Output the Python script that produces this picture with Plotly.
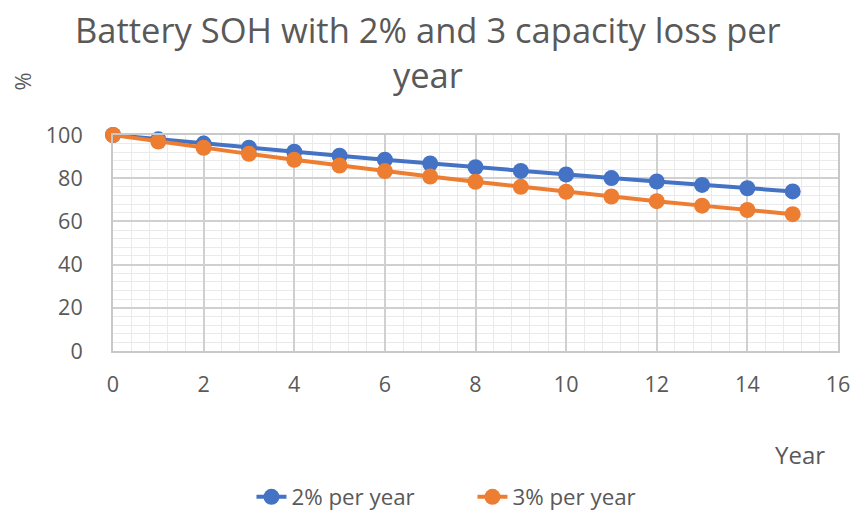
import plotly.graph_objects as go

years = list(range(16))
soh_2pct = [100, 98, 96.04, 94.12, 92.24, 90.39, 88.58, 86.81, 85.08, 83.37, 81.71, 80.07, 78.47, 76.90, 75.36, 73.86]
soh_3pct = [100, 97, 94.09, 91.27, 88.53, 85.87, 83.30, 80.80, 78.37, 76.02, 73.74, 71.53, 69.38, 67.30, 65.28, 63.33]

grey = "#595959"
font = "Open Sans, Noto Sans, sans-serif"

fig = go.Figure()
fig.add_trace(go.Scatter(x=years, y=soh_2pct, mode="lines+markers", name="2% per year", cliponaxis=False,
                         line=dict(color="#4472C4", width=4), marker=dict(size=16, color="#4472C4")))
fig.add_trace(go.Scatter(x=years, y=soh_3pct, mode="lines+markers", name="3% per year", cliponaxis=False,
                         line=dict(color="#ED7D31", width=4), marker=dict(size=16, color="#ED7D31")))

fig.update_layout(
    width=853, height=512,
    paper_bgcolor="white", plot_bgcolor="white",
    margin=dict(l=113, r=15, t=135, b=161, autoexpand=False),
    font=dict(family=font, color=grey),
    showlegend=True,
    legend=dict(orientation="h", x=0.191, xanchor="left", y=-0.675, yanchor="middle",
                font=dict(size=22.3, color=grey), entrywidth=176, traceorder="normal"),
    xaxis=dict(range=[0, 16], dtick=2, tickfont=dict(size=21.5, color=grey),
               showgrid=True, gridcolor="#D0D0D0", gridwidth=1.5,
               minor=dict(dtick=0.4, showgrid=True, gridcolor="#EAEAEA", gridwidth=1.2),
               showline=True, linecolor="#C8C8C8", linewidth=2, mirror=True,
               zeroline=False, ticks="", ticklabelstandoff=13, automargin=False),
    yaxis=dict(range=[0, 100], dtick=20, tickfont=dict(size=21.5, color=grey),
               showgrid=True, gridcolor="#D0D0D0", gridwidth=1.5,
               minor=dict(dtick=4, showgrid=True, gridcolor="#EAEAEA", gridwidth=1.2),
               showline=True, linecolor="#C8C8C8", linewidth=2, mirror=True,
               zeroline=False, ticks="", ticklabelstandoff=24, automargin=False),
    annotations=[
        dict(text="Battery SOH with 2% and 3 capacity loss per<br>year", xref="paper", yref="paper",
             x=0.434, y=1.384, xanchor="center", yanchor="middle", showarrow=False,
             font=dict(size=34.5, color=grey)),
        dict(text="%", xref="paper", yref="paper", x=-0.125, y=1.25, showarrow=False,
             xanchor="center", yanchor="middle",
             textangle=-90, font=dict(size=22, color=grey)),
        dict(text="Year", xref="paper", yref="paper", x=0.948, y=-0.48, showarrow=False,
             xanchor="center", yanchor="middle",
             font=dict(size=24, color=grey)),
    ],
)

fig.write_html("out.html", post_script="document.body.style.margin='0';",
               config={"displayModeBar": False})
